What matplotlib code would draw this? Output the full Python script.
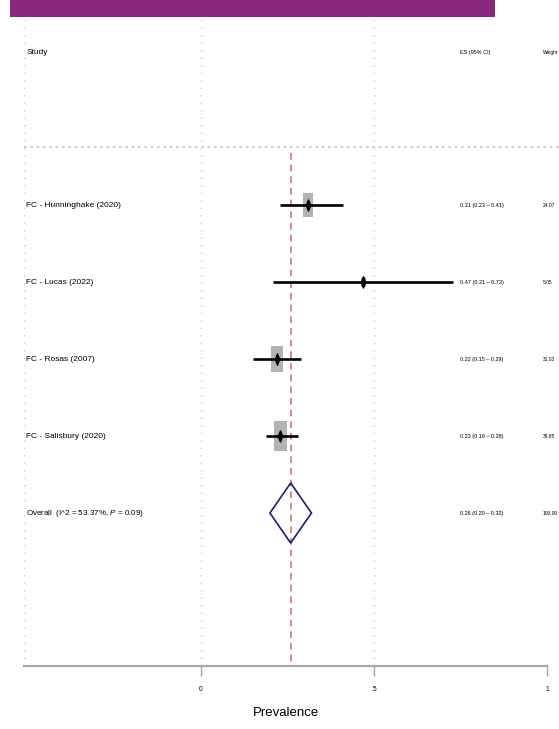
import numpy as np
import matplotlib
matplotlib.use("Agg")
import matplotlib.pyplot as plt
from matplotlib.patches import Rectangle, Polygon
from matplotlib.path import Path

plt.rcParams['font.family'] = ['Liberation Sans', 'DejaVu Sans']
plt.rcParams['mathtext.fontset'] = 'custom'
plt.rcParams['mathtext.rm'] = 'Liberation Sans'
plt.rcParams['mathtext.it'] = 'Liberation Sans:italic'

# ---- data ----
studies = ["FC - Hunninghake (2020)", "FC - Lucas (2022)", "FC - Rosas (2007)",
           "FC - Salisbury (2020)"]
es = [0.31, 0.47, 0.22, 0.23]
lo = [0.23, 0.21, 0.15, 0.19]
hi = [0.41, 0.73, 0.29, 0.28]
weights = [24.07, 5.05, 31.03, 39.85]
overall_es, overall_lo, overall_hi = 0.26, 0.20, 0.32
overall_label = r"Overall  (I^2 = 53.37%, $\it{P}$ = 0.09)"
overall_weight = 100.00
xticks = [0, 0.5, 1]
xticklabels = ["0", ".5", "1"]
xlabel = "Prevalence"

# ---- figure ----
W, H = 559, 729
fig = plt.figure(figsize=(W / 100, H / 100), dpi=100)
fig.patch.set_facecolor("white")

# banner strip across the top
fig.patches.append(Rectangle((10 / W, 1 - 17 / H), 485 / W, 17 / H,
                             transform=fig.transFigure, facecolor="#8b287d",
                             edgecolor="none", zorder=0))

ax = fig.add_axes([24 / W, 1 - 666 / H, 523 / W, 646 / H])
xmin, xmax = -0.51, 1.0
ax.set_xlim(xmin, xmax)
ax.set_ylim(5.987, -2.403)

for s in ["top", "left", "right"]:
    ax.spines[s].set_visible(False)
ax.spines["bottom"].set_color("#a8a8a8")
ax.spines["bottom"].set_linewidth(1.6)
ax.set_yticks([])
ax.set_xticks(xticks)
ax.set_xticklabels(xticklabels, fontsize=4.8)
ax.tick_params(axis="x", direction="out", length=7.2, width=1.0,
               color="#a8a8a8", pad=7.5)
ax.set_xlabel(xlabel, fontsize=9.5, labelpad=10)

grid_kw = dict(color="#c8c8c8", lw=1.0, linestyle=(0, (0.9, 4.5)), zorder=1)
for gx in [xmin] + xticks:
    ax.axvline(gx, **grid_kw)

# header separator
header_y = -1.987
sep_y = -0.753
ax.plot([xmin, 1.035], [sep_y, sep_y], color="#c8c8c8", lw=1.2,
        linestyle=(0, (1.6, 2.2)), clip_on=False, zorder=1)

# overall effect reference line
ax.plot([overall_es, overall_es], [-0.675, 5.987], color="#d9707c", lw=1.2,
        linestyle=(0, (4.0, 3.0)), zorder=2)

rows = np.arange(len(studies))
box_wx = 2.15 / 346   # data units per sqrt(weight), horizontal
box_hy = 4.8 / 77     # row units per sqrt(weight), vertical

marker_path = Path([(0, 1), (0.4, 0), (0, -1), (-0.4, 0), (0, 1)],
                   [Path.MOVETO, Path.LINETO, Path.LINETO, Path.LINETO, Path.CLOSEPOLY])

for r, e, l, h, w in zip(rows, es, lo, hi, weights):
    bw = box_wx * np.sqrt(w)
    bh = box_hy * np.sqrt(w)
    ax.add_patch(Rectangle((e - bw / 2, r - bh / 2), bw, bh, facecolor="#b3b3b3",
                           edgecolor="none", zorder=3))
    ax.plot([l, h], [r, r], color="black", lw=1.9, solid_capstyle="butt", zorder=4)
    ax.plot([e], [r], marker=marker_path, markersize=8, color="black", zorder=5)

# pooled diamond
orow = len(studies)
dh = 0.39
ax.add_patch(Polygon([(overall_lo, orow), (overall_es, orow - dh),
                      (overall_hi, orow), (overall_es, orow + dh)],
                     closed=True, facecolor="none", edgecolor="#1c1c78",
                     lw=1.2, zorder=4))

# text columns
x_study, x_es, x_wt = -0.503, 0.749, 0.988
fs_lab, fs_es, fs_wt = 6.0, 4.0, 3.5
ax.text(x_study, header_y, "Study", fontsize=fs_lab, ha="left", va="center")
ax.text(x_es, header_y, "ES (95% CI)", fontsize=fs_es, ha="left", va="center")
ax.text(x_wt, header_y, "Weight", fontsize=fs_wt, ha="left", va="center")

for r, name, e, l, h, w in zip(rows, studies, es, lo, hi, weights):
    ax.text(x_study, r, name, fontsize=fs_lab, ha="left", va="center")
    ax.text(x_es, r, f"{e:.2f} ({l:.2f} \u2013 {h:.2f})", fontsize=fs_es,
            ha="left", va="center")
    ax.text(x_wt, r, f"{w:.2f}", fontsize=fs_wt, ha="left", va="center")

ax.text(x_study, orow, overall_label, fontsize=5.8, ha="left", va="center")
ax.text(x_es, orow, f"{overall_es:.2f} ({overall_lo:.2f} \u2013 {overall_hi:.2f})",
        fontsize=fs_es, ha="left", va="center")
ax.text(x_wt, orow, f"{overall_weight:.2f}", fontsize=fs_wt, ha="left", va="center")

fig.savefig("out.png", dpi=100)
